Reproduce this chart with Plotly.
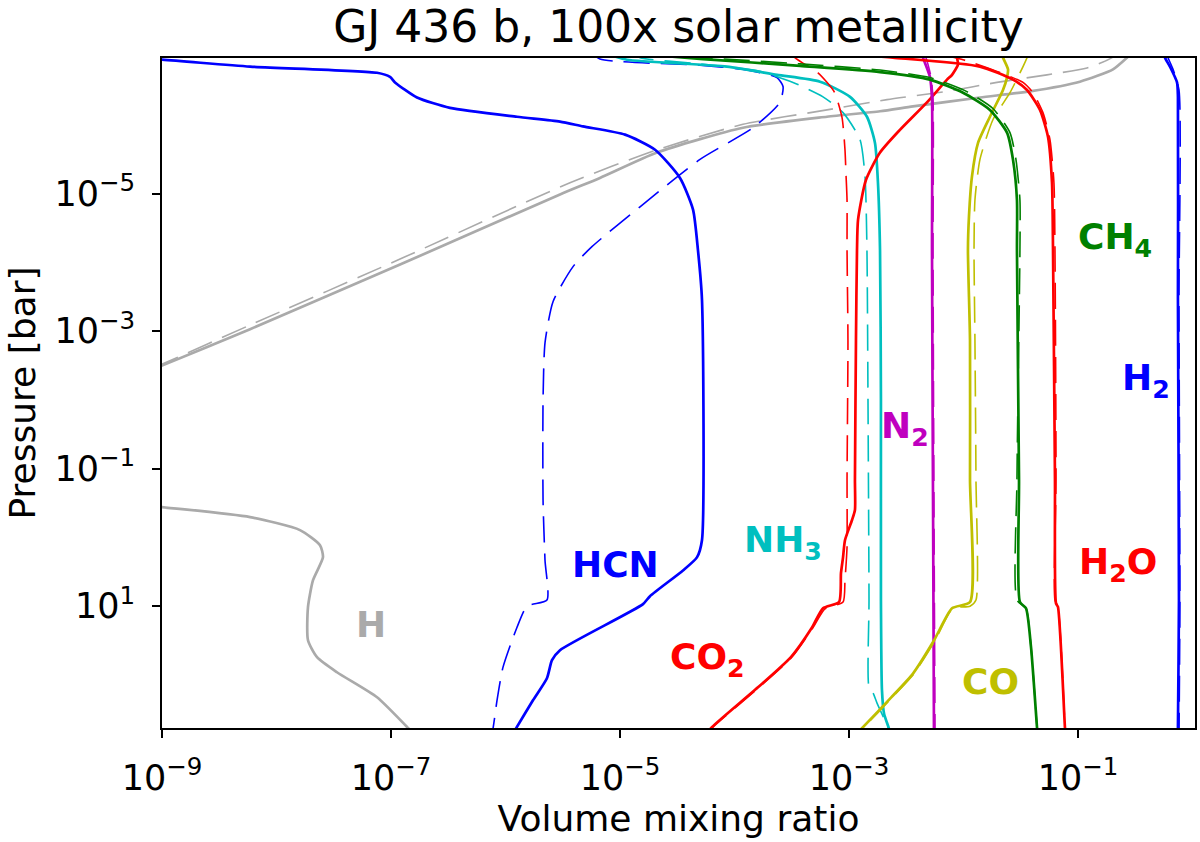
import numpy as np
import plotly.graph_objects as go

# All values.
# logp = log10(pressure / bar), logx = log10(volume mixing ratio)
# "s" = solid-line model, "d" = dashed-line model

H2_s_logp = [-7.10, -6.98, -6.85, -6.62, -6.41, -3.46, 0.91, 2.77, 2.95]
H2_s_logx = [-0.26, -0.240, -0.197, -0.135, -0.127, -0.127, -0.118, -0.127, -0.127]
H2_d_logp = [-7.10, -6.98, -6.81, -6.51, -3.46, 0.91, 2.95]
H2_d_logx = [-0.24, -0.214, -0.170, -0.118, -0.118, -0.110, -0.118]

H_s_logp = [-7.17, -6.98, -6.81, -6.63, -6.49, -6.40, -6.27, -6.20, -6.12, -5.96, -5.60,
            -5.23, -4.99, -3.97, -3.03, -2.50, -1.78, -1.20, -0.63, -0.442, -0.296, -0.107,
            0.112, 0.287, 0.622, 1.014, 1.495, 1.742, 1.961, 2.325, 2.772, 2.95]
H_s_logx = [-0.459, -0.572, -0.694, -0.983, -1.419, -1.856, -2.441, -2.729, -3.192, -3.926, -4.677,
            -5.175, -5.524, -6.921, -8.231, -9.000, -10.0, -11.5, -10.0, -9.0, -8.231, -7.795,
            -7.620, -7.594, -7.681, -7.725, -7.725, -7.646, -7.472, -7.122, -6.851, -6.747]
H_d_logp = [-7.10, -6.98, -6.83, -6.73, -6.62, -6.49, -6.37, -6.22, -6.01, -5.64, -5.16,
            -4.05, -3.09, -2.52, -2.13]
H_d_logx = [-0.633, -0.703, -0.921, -1.271, -1.708, -2.144, -2.668, -3.192, -3.926, -4.677, -5.437,
            -6.921, -8.231, -9.0, -9.54]

HCN_s_logp = [-7.05, -6.95, -6.85, -6.76, -6.70, -6.62, -6.40, -6.25, -6.12, -6.05, -5.98, -5.86,
              -5.64, -5.23, -4.77, -4.18, -3.46, 0.04, 0.29, 0.48, 0.854, 0.970, 1.640, 1.786,
              2.048, 2.369, 2.777, 2.92]
HCN_s_logx = [-10.0, -9.0, -8.231, -7.122, -7.009, -6.965, -6.773, -6.485, -5.900, -5.524, -5.323,
              -4.956, -4.694, -4.476, -4.362, -4.319, -4.284, -4.284, -4.328, -4.450, -4.738,
              -4.799, -5.524, -5.594, -5.638, -5.760, -5.908, -5.961]
HCN_d_logp = [-7.08, -6.96, -6.87, -6.80, -6.69, -6.56, -6.33, -5.96, -5.50, -4.81, -4.23, -3.94,
              -3.43, -2.83, -2.00, -0.54, 0.33, 0.91, 1.00, 1.31, 1.89, 2.37, 2.78, 2.92]
HCN_d_logx = [-5.262, -5.175, -4.301, -3.891, -3.629, -3.576, -3.603, -3.838, -4.301, -4.825,
              -5.245, -5.410, -5.585, -5.655, -5.672, -5.672, -5.655, -5.638, -5.812, -5.900,
              -6.022, -6.074, -6.109, -6.13]

NH3_s_logp = [-7.02, -6.95, -6.85, -6.73, -6.63, -6.41, -6.12, -5.74, -5.16, -4.18, -2.00, 0.91,
              2.22, 2.56, 2.78, 2.92]
NH3_s_logx = [-5.087, -4.939, -4.066, -3.629, -3.253, -2.991, -2.843, -2.773, -2.747, -2.729,
              -2.721, -2.721, -2.712, -2.694, -2.651, -2.63]
NH3_d_logp = [-7.08, -6.98, -6.89, -6.78, -6.62, -6.41, -6.18, -5.79, -5.25, -4.18, -2.00, 0.91,
              2.18, 2.26, 2.41, 2.66, 2.78]
NH3_d_logx = [-4.913, -4.825, -4.301, -3.777, -3.489, -3.227, -3.052, -2.904, -2.860, -2.843,
              -2.834, -2.825, -2.825, -2.790, -2.755, -2.686, -2.651]

CO2_s_logp = [-7.10, -6.98, -6.88, -6.73, -6.66, -6.33, -5.93, -5.60, -5.20, -4.62, -4.18, -2.87,
              -0.84, -0.40, -0.25, 0.04, 0.29, 0.52, 0.94, 1.03, 1.31, 1.74, 2.18, 2.76, 2.88]
CO2_s_logx = [-2.074, -2.057, -2.048, -2.100, -2.144, -2.319, -2.555, -2.729, -2.852, -2.921,
              -2.930, -2.939, -2.948, -2.948, -2.974, -3.035, -3.052, -3.070, -3.087, -3.227,
              -3.323, -3.507, -3.795, -4.197, -4.258]
CO2_d_logp = [-7.10, -6.98, -6.76, -6.49, -6.11, -5.64, -5.28, -4.91, -4.18, -2.87, -0.84, 0.14,
              0.62, 0.94, 1.04, 1.31, 1.74, 2.18, 2.76, 2.88]
CO2_d_logx = [-3.515, -3.472, -3.271, -3.131, -3.061, -3.035, -3.026, -3.017, -3.017, -3.009,
              -3.017, -3.017, -3.035, -3.052, -3.210, -3.314, -3.498, -3.786, -4.188, -4.249]

N2_s_logp = [-7.10, -6.98, -6.70, -6.37, -4.18, -0.54, 2.76, 2.95]
N2_s_logx = [-2.380, -2.354, -2.293, -2.275, -2.275, -2.266, -2.258, -2.258]
N2_d_logp = [-7.10, -6.98, -6.70, -6.37, -4.18, -0.54, 2.76, 2.95]
N2_d_logx = [-2.360, -2.328, -2.284, -2.266, -2.266, -2.258, -2.249, -2.249]

CO_s_logp = [-7.10, -6.98, -6.81, -6.69, -6.51, -6.12, -5.74, -5.25, -4.67, -4.18, -2.87, -0.84,
             0.94, 1.03, 1.50, 1.98, 2.33, 2.76, 2.88]
CO_s_logx = [-1.681, -1.655, -1.611, -1.620, -1.655, -1.769, -1.873, -1.926, -1.952, -1.961,
             -1.943, -1.943, -1.943, -2.100, -2.258, -2.441, -2.633, -2.878, -2.948]
CO_d_logp = [-7.10, -6.98, -6.85, -6.47, -6.08, -5.50, -4.91, -4.18, -2.87, -0.84, 0.91, 1.00,
             1.03, 1.50, 1.98, 2.33, 2.76, 2.88]
CO_d_logx = [-1.419, -1.445, -1.480, -1.594, -1.742, -1.856, -1.900, -1.908, -1.900, -1.891,
             -1.891, -1.943, -2.092, -2.249, -2.432, -2.624, -2.869, -2.940]

CH4_s_logp = [-7.02, -6.96, -6.86, -6.77, -6.66, -6.47, -6.22, -5.89, -5.50, -4.91, -4.18, -0.84,
              0.94, 1.03, 1.60, 2.76, 2.95]
CH4_s_logx = [-4.738, -4.275, -3.428, -2.729, -2.293, -2.004, -1.769, -1.620, -1.568, -1.533,
              -1.533, -1.515, -1.507, -1.454, -1.410, -1.358, -1.349]
CH4_d_logp = [-7.04, -6.98, -6.89, -6.80, -6.69, -6.50, -6.24, -5.89, -5.50, -4.91, -4.18, -0.84,
              0.91, 1.03, 1.60, 2.76]
CH4_d_logx = [-4.738, -4.275, -3.428, -2.729, -2.293, -1.987, -1.743, -1.594, -1.542, -1.507,
              -1.507, -1.533, -1.533, -1.454, -1.410, -1.358]

H2O_s_logp = [-7.02, -6.98, -6.85, -6.66, -6.51, -6.22, -5.83, -5.16, -4.18, -0.84, 0.96, 1.01,
              2.76, 2.95]
H2O_s_logx = [-2.904, -2.616, -1.856, -1.568, -1.445, -1.332, -1.262, -1.227, -1.218, -1.201,
              -1.192, -1.175, -1.114, -1.105]
H2O_d_logp = [-7.03, -6.95, -6.78, -6.62, -6.47, -6.18, -5.79, -5.16, -4.18, -0.84, 0.91, 1.01,
              2.76]
H2O_d_logx = [-2.205, -2.004, -1.708, -1.480, -1.393, -1.306, -1.245, -1.210, -1.201, -1.192,
              -1.201, -1.175, -1.114]

# species labels
label_text = ["H", "HCN", "NH<sub>3</sub>", "CO<sub>2</sub>", "N<sub>2</sub>", "CO",
              "CH<sub>4</sub>", "H<sub>2</sub>", "H<sub>2</sub>O"]

# axis ticks
x_tickvals = [1e-9, 1e-7, 1e-5, 1e-3, 1e-1]
x_ticktext = ["10<sup>\u22129</sup>", "10<sup>\u22127</sup>", "10<sup>\u22125</sup>",
              "10<sup>\u22123</sup>", "10<sup>\u22121</sup>"]
y_tickvals = [1e-5, 1e-3, 1e-1, 1e1]
y_ticktext = ["10<sup>\u22125</sup>", "10<sup>\u22123</sup>", "10<sup>\u22121</sup>",
              "10<sup>1</sup>"]

BLUE, GRAY, CYAN, RED = "#0000ff", "#aaaaaa", "#00bfbf", "#ff0000"
MAG, YEL, GRN = "#bf00bf", "#bfbf00", "#008000"

curves = [
    (H_s_logp, H_s_logx, GRAY, "solid"), (H_d_logp, H_d_logx, GRAY, "dash"),
    (HCN_s_logp, HCN_s_logx, BLUE, "solid"), (HCN_d_logp, HCN_d_logx, BLUE, "dash"),
    (NH3_s_logp, NH3_s_logx, CYAN, "solid"), (NH3_d_logp, NH3_d_logx, CYAN, "dash"),
    (CO2_s_logp, CO2_s_logx, RED, "solid"), (CO2_d_logp, CO2_d_logx, RED, "dash"),
    (N2_s_logp, N2_s_logx, MAG, "solid"), (N2_d_logp, N2_d_logx, MAG, "dash"),
    (CO_s_logp, CO_s_logx, YEL, "solid"), (CO_d_logp, CO_d_logx, YEL, "dash"),
    (CH4_s_logp, CH4_s_logx, GRN, "solid"), (CH4_d_logp, CH4_d_logx, GRN, "dash"),
    (H2O_s_logp, H2O_s_logx, RED, "solid"), (H2O_d_logp, H2O_d_logx, RED, "dash"),
    (H2_s_logp, H2_s_logx, BLUE, "solid"), (H2_d_logp, H2_d_logx, BLUE, "dash"),
]

fig = go.Figure()
for logp, logx, color, style in curves:
    p = 10.0 ** np.array(logp)
    x = 10.0 ** np.array(logx)
    if style == "solid":
        line = dict(color=color, width=2.7, shape="spline", smoothing=0.6)
    else:
        line = dict(color=color, width=1.6, dash="26px,11px", shape="spline", smoothing=0.6)
    fig.add_trace(go.Scatter(x=x, y=p, mode="lines", line=line,
                             showlegend=False, hoverinfo="skip"))

label_colors = [GRAY, BLUE, CYAN, RED, MAG, YEL, GRN, BLUE, RED]
label_pos = [(-7.179, 1.26), (-5.035, 0.40), (-3.572, 0.08), (-4.236, 1.78), (-2.511, -1.59),
             (-1.764, 2.09), (-0.681, -4.33), (-0.406, -2.29), (-0.651, 0.40)]
for txt, col, (lx, lp) in zip(label_text, label_colors, label_pos):
    fig.add_annotation(x=lx, y=lp, xref="x", yref="y", text="<b>" + txt + "</b>",
                       showarrow=False, xanchor="center", yanchor="middle",
                       font=dict(family="DejaVu Sans", size=36, color=col))

axis_common = dict(type="log", showgrid=False, zeroline=False, showline=True,
                   linecolor="black", linewidth=1.7, mirror=True, ticks="outside",
                   ticklen=8, tickwidth=1.7, tickcolor="black", automargin=False,
                   tickfont=dict(family="DejaVu Sans", size=35, color="black"))

fig.update_layout(
    width=1200, height=842,
    margin=dict(l=162, r=5, t=58, b=114, autoexpand=False),
    paper_bgcolor="white", plot_bgcolor="white",
    title=dict(text="GJ 436 b, 100x solar metallicity", x=0.5, xref="paper",
               xanchor="center", y=1 - 27 / 842, yref="container", yanchor="middle",
               automargin=False,
               font=dict(family="DejaVu Sans", size=44, color="black")),
    xaxis=dict(axis_common, range=[-9, 0.022], tickmode="array",
               tickvals=x_tickvals, ticktext=x_ticktext, ticklabelstandoff=10,
               title=dict(text="Volume mixing ratio", standoff=0,
                          font=dict(family="DejaVu Sans", size=36, color="black"))),
    yaxis=dict(axis_common, range=[2.772, -6.975], tickmode="array",
               tickvals=y_tickvals, ticktext=y_ticktext, ticklabelstandoff=10,
               title=dict(text="Pressure [bar]", standoff=8,
                          font=dict(family="DejaVu Sans", size=36, color="black"))),
)

fig.write_html("out.html",
               config={"displayModeBar": False},
               post_script="document.body.style.margin='0px';"
                           "document.body.style.overflow='hidden';")
